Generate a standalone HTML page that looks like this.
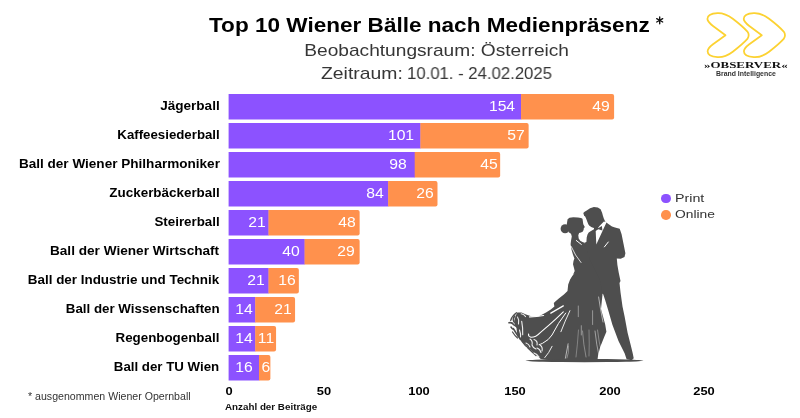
<!DOCTYPE html>
<html><head><meta charset="utf-8"><style>
html,body{margin:0;padding:0;background:#fff;}
body{width:800px;height:418px;position:relative;overflow:hidden;font-family:"Liberation Sans",sans-serif;}
.a{position:absolute;white-space:nowrap;}
*{-webkit-font-smoothing:antialiased;}
.lab,.v,.t,.txt{will-change:transform;}
.bar{position:absolute;}
.lab{position:absolute;right:580.4px;font-weight:bold;font-size:12px;color:#000;line-height:14px;transform-origin:100% 50%;}
.v{position:absolute;color:#fff;font-size:15.2px;line-height:16px;transform-origin:50% 50%;}
.t{position:absolute;font-weight:bold;font-size:11.5px;color:#000;line-height:13px;transform:scaleX(1.12);}
</style></head><body>

<div class="a txt" style="left:209.39999999999998px;top:12.5px;font-weight:bold;font-size:20.4px;line-height:24px;color:#000;transform-origin:0 50%;transform:scaleX(1.1065);">Top 10 Wiener Bälle nach Medienpräsenz</div>
<svg class="a" style="left:0;top:0" width="800" height="60" viewBox="0 0 800 60"><g stroke="#111" stroke-width="1.35" stroke-linecap="round"><path d="M659.7,16.9 V23.7"/><path d="M656.7,18.6 L662.7,22"/><path d="M656.7,22 L662.7,18.6"/></g></svg>
<div class="a txt" style="left:0;width:873px;top:41px;text-align:center;font-size:17px;line-height:20px;color:#363636;"><span style="display:inline-block;transform:scaleX(1.125);">Beobachtungsraum: Österreich</span></div>
<div class="a txt" style="left:320.90000000000003px;top:63.8px;font-size:17px;line-height:20px;color:#363636;transform-origin:0 50%;transform:scaleX(1.139);">Zeitraum:</div>
<div class="a txt" style="left:406.6px;top:63.8px;font-size:17px;line-height:20px;color:#363636;transform-origin:0 50%;transform:scaleX(0.983);">10.01. - 24.02.2025</div>
<svg class="a" style="left:0;top:0;" width="800" height="418" viewBox="0 0 800 418"><rect x="228.60" y="94.00" width="292.75" height="25.5" fill="#8c52ff"/><path d="M521.05,94.00 H612.10 Q614.10,94.00 614.10,96.00 V117.50 Q614.10,119.50 612.10,119.50 H521.05 Z" fill="#ff914d"/><rect x="228.60" y="123.00" width="192.10" height="25.5" fill="#8c52ff"/><path d="M420.40,123.00 H526.64 Q528.64,123.00 528.64,125.00 V146.50 Q528.64,148.50 526.64,148.50 H420.40 Z" fill="#ff914d"/><rect x="228.60" y="152.00" width="186.40" height="25.5" fill="#8c52ff"/><path d="M414.70,152.00 H498.16 Q500.16,152.00 500.16,154.00 V175.50 Q500.16,177.50 498.16,177.50 H414.70 Z" fill="#ff914d"/><rect x="228.60" y="181.00" width="159.82" height="25.5" fill="#8c52ff"/><path d="M388.12,181.00 H435.49 Q437.49,181.00 437.49,183.00 V204.50 Q437.49,206.50 435.49,206.50 H388.12 Z" fill="#ff914d"/><rect x="228.60" y="210.00" width="40.18" height="25.5" fill="#8c52ff"/><path d="M268.48,210.00 H357.63 Q359.63,210.00 359.63,212.00 V233.50 Q359.63,235.50 357.63,235.50 H268.48 Z" fill="#ff914d"/><rect x="228.60" y="239.00" width="76.26" height="25.5" fill="#8c52ff"/><path d="M304.56,239.00 H357.63 Q359.63,239.00 359.63,241.00 V262.50 Q359.63,264.50 357.63,264.50 H304.56 Z" fill="#ff914d"/><rect x="228.60" y="268.00" width="40.18" height="25.5" fill="#8c52ff"/><path d="M268.48,268.00 H296.86 Q298.86,268.00 298.86,270.00 V291.50 Q298.86,293.50 296.86,293.50 H268.48 Z" fill="#ff914d"/><rect x="228.60" y="297.00" width="26.89" height="25.5" fill="#8c52ff"/><path d="M255.19,297.00 H293.06 Q295.06,297.00 295.06,299.00 V320.50 Q295.06,322.50 293.06,322.50 H255.19 Z" fill="#ff914d"/><rect x="228.60" y="326.00" width="26.89" height="25.5" fill="#8c52ff"/><path d="M255.19,326.00 H274.07 Q276.07,326.00 276.07,328.00 V349.50 Q276.07,351.50 274.07,351.50 H255.19 Z" fill="#ff914d"/><rect x="228.60" y="355.00" width="30.68" height="25.5" fill="#8c52ff"/><path d="M258.98,355.00 H268.38 Q270.38,355.00 270.38,357.00 V378.50 Q270.38,380.50 268.38,380.50 H258.98 Z" fill="#ff914d"/></svg>
<div class="lab" style="top:99.10000000000001px;transform:scaleX(1.1299166666666667);">Jägerball</div>
<div class="v" style="left:462.30px;width:80px;text-align:center;top:98.1px;transform:scaleX(1.035);">154</div>
<div class="v" style="left:560.50px;width:80px;text-align:center;top:98.1px;transform:scaleX(1.035);">49</div>
<div class="lab" style="top:128.1px;transform:scaleX(1.1039166666666664);">Kaffeesiederball</div>
<div class="v" style="left:360.86px;width:80px;text-align:center;top:127.1px;transform:scaleX(1.035);">101</div>
<div class="v" style="left:475.70px;width:80px;text-align:center;top:127.1px;transform:scaleX(1.035);">57</div>
<div class="lab" style="top:157.1px;transform:scaleX(1.1299166666666667);">Ball der Wiener Philharmoniker</div>
<div class="v" style="left:358.00px;width:80px;text-align:center;top:156.1px;transform:scaleX(1.035);">98</div>
<div class="v" style="left:448.86px;width:80px;text-align:center;top:156.1px;transform:scaleX(1.035);">45</div>
<div class="lab" style="top:186.1px;transform:scaleX(1.118);">Zuckerbäckerball</div>
<div class="v" style="left:334.61px;width:80px;text-align:center;top:185.1px;transform:scaleX(1.035);">84</div>
<div class="v" style="left:384.86px;width:80px;text-align:center;top:185.1px;transform:scaleX(1.035);">26</div>
<div class="lab" style="top:215.1px;transform:scaleX(1.1125833333333333);">Steirerball</div>
<div class="v" style="left:216.80px;width:80px;text-align:center;top:214.1px;transform:scaleX(1.035);">21</div>
<div class="v" style="left:306.87px;width:80px;text-align:center;top:214.1px;transform:scaleX(1.035);">48</div>
<div class="lab" style="top:244.1px;transform:scaleX(1.13425);">Ball der Wiener Wirtschaft</div>
<div class="v" style="left:250.97px;width:80px;text-align:center;top:243.1px;transform:scaleX(1.035);">40</div>
<div class="v" style="left:306.28px;width:80px;text-align:center;top:243.1px;transform:scaleX(1.035);">29</div>
<div class="lab" style="top:273.09999999999997px;transform:scaleX(1.118);">Ball der Industrie und Technik</div>
<div class="v" style="left:215.65px;width:80px;text-align:center;top:272.1px;transform:scaleX(1.035);">21</div>
<div class="v" style="left:247.49px;width:80px;text-align:center;top:272.1px;transform:scaleX(1.035);">16</div>
<div class="lab" style="top:302.09999999999997px;transform:scaleX(1.1093333333333335);">Ball der Wissenschaften</div>
<div class="v" style="left:203.89px;width:80px;text-align:center;top:301.1px;transform:scaleX(1.035);">14</div>
<div class="v" style="left:243.02px;width:80px;text-align:center;top:301.1px;transform:scaleX(1.035);">21</div>
<div class="lab" style="top:331.09999999999997px;transform:scaleX(1.1125833333333333);">Regenbogenball</div>
<div class="v" style="left:203.50px;width:80px;text-align:center;top:330.1px;transform:scaleX(1.035);">14</div>
<div class="v" style="left:226.00px;width:80px;text-align:center;top:330.1px;transform:scaleX(1.035);">11</div>
<div class="lab" style="top:360.09999999999997px;transform:scaleX(1.1071666666666666);">Ball der TU Wien</div>
<div class="v" style="left:203.50px;width:80px;text-align:center;top:359.1px;transform:scaleX(1.035);">16</div>
<div class="v" style="left:225.73px;width:80px;text-align:center;top:359.1px;transform:scaleX(1.035);">6</div>
<div class="t" style="left:198.60px;width:60px;text-align:center;top:385px;">0</div>
<div class="t" style="left:293.55px;width:60px;text-align:center;top:385px;">50</div>
<div class="t" style="left:388.50px;width:60px;text-align:center;top:385px;">100</div>
<div class="t" style="left:484.65px;width:60px;text-align:center;top:385px;">150</div>
<div class="t" style="left:579.60px;width:60px;text-align:center;top:385px;">200</div>
<div class="t" style="left:673.95px;width:60px;text-align:center;top:385px;">250</div>
<div class="a txt" style="left:225px;top:402px;font-weight:bold;font-size:9px;line-height:11px;color:#111;transform-origin:0 50%;transform:scaleX(1.09);">Anzahl der Beiträge</div>
<div class="a txt" style="left:27.5px;top:391px;font-size:10px;line-height:12px;color:#333;transform-origin:0 50%;transform:scaleX(1.06);">* ausgenommen Wiener Opernball</div>
<div class="a" style="left:661.2px;top:193.8px;width:9.5px;height:9.5px;border-radius:50%;background:#8c52ff;"></div>
<div class="a" style="left:661.2px;top:210.1px;width:9.5px;height:9.5px;border-radius:50%;background:#ff914d;"></div>
<div class="a txt" style="left:675.3px;top:191px;font-size:11.5px;line-height:14px;color:#333;transform-origin:0 50%;transform:scaleX(1.24);">Print</div>
<div class="a txt" style="left:675px;top:207.3px;font-size:11.5px;line-height:14px;color:#333;transform-origin:0 50%;transform:scaleX(1.2);">Online</div>
<svg class="a" style="left:0;top:0;" width="800" height="418" viewBox="0 0 800 418">
<path d="M717.5,13.1 C723,12.8 727.5,14.8 732.8,18.8 C738.3,23 743.8,27.6 747.4,31.6 Q750,35.2 747.4,38.9 C743.8,42.9 738.3,47.5 732.8,51.7 C727.5,55.7 723,57.6 717.5,57.2 C711,56.8 707.6,54.4 707.6,51.3 C707.7,48.7 710,46.6 713,44.3 L725.5,35.2 L713,26 C710,23.7 707.5,21.5 707.4,18.9 C707.4,15.8 711,13.4 717.5,13.1 Z" fill="none" stroke="#fcd232" stroke-width="1.75" stroke-linejoin="round"/>
<path d="M717.5,13.1 C723,12.8 727.5,14.8 732.8,18.8 C738.3,23 743.8,27.6 747.4,31.6 Q750,35.2 747.4,38.9 C743.8,42.9 738.3,47.5 732.8,51.7 C727.5,55.7 723,57.6 717.5,57.2 C711,56.8 707.6,54.4 707.6,51.3 C707.7,48.7 710,46.6 713,44.3 L725.5,35.2 L713,26 C710,23.7 707.5,21.5 707.4,18.9 C707.4,15.8 711,13.4 717.5,13.1 Z" fill="none" stroke="#fcd232" stroke-width="1.75" stroke-linejoin="round" transform="translate(36.3,0)"/>
</svg>

<div class="a txt" style="left:703.6px;top:62px;font-family:'Liberation Serif',serif;font-weight:bold;font-size:7.2px;line-height:8px;color:#111;transform-origin:0 50%;transform:scaleX(1.8);">»OBSERVER«</div>
<div class="a txt" style="left:715.5px;top:69.5px;font-weight:bold;font-size:6.6px;line-height:8px;color:#333;transform-origin:0 50%;transform:scaleX(1.047);">Brand Intelligence</div>
<svg class="a" style="left:0;top:0;" width="800" height="418" viewBox="0 0 800 418">
<g fill="#4e4e4e">
<path d="M583.3,213.1 L584.6,211.8 L586.3,210.7 L590.1,208.3 L593.9,207.1 L597.8,207.4 L600.6,209.3 L602.1,212.7 L603,216 L603.8,218.5 L605.3,221.8 L608.4,224.1 L612,226.4 L615,227.4 L619.7,228.8 L621.6,234.2 L623.5,243.7 L625.4,253.3 L624.5,257.1 L620.7,258.7 L616.8,258.5 L617.4,265 L618.7,272.5 L620.5,281.1 L619.5,283 L620.5,292.2 L622.5,306.4 L624.6,316.6 L627.6,332.8 L630.7,345 L632.7,353.2 L633.7,358.3 L631.7,360.3 L626.6,359.3 L624.6,353.2 L618.5,341 L612.4,324.7 L608.3,310.5 L605.2,300.3 L603.2,294.2 L595,290 L583,252 L584.4,242.8 L586.4,242 L586.7,237.6 L587.5,234.5 L588.7,232.6 L591,231.1 L594,229.2 L594,228 L591.7,227.2 L589.4,225.7 L588.3,224.2 L587.5,222.3 L586.4,219.2 L585.2,216.5 L584.1,215.7 Z"/>
<path d="M567.6,219.2 L569.5,217.7 L573.3,217.2 L577.9,217.4 L581,218 L582.5,218.8 L582.9,221.5 L583.3,224.2 L584.8,226.9 L583.7,228.4 L583.7,229.5 L582.9,231.5 L581,232.6 L579.1,233 L578.3,235.3 L578.7,238.4 L580.2,240.7 L582.5,242 L584.4,242.7 L590,260 L600,280 L602.5,294.6 L601,308.9 L605.2,324.5 L606.4,331.7 L604.2,336.9 L600.2,347.1 L598.1,355.2 L597.5,359.8 L575,360.6 L551.1,360.2 L545.7,359.8 L540.8,358.9 L534.3,353.2 L526.1,345.4 L519.5,339.5 L517.4,336 L516.5,328 L514,322.5 L515.5,316 L517.4,312.6 L521.5,312.5 L526,314.6 L532,316.6 L539,316.2 L546,312.5 L550.8,309.5 L554.4,306.5 L553.8,303 L555.6,301.2 L559.1,298.2 L563.9,294.6 L567.5,291 L568.2,284.4 L570.1,279.6 L573,274.8 L574.7,271 L574,268 L573,264.3 L573.5,261 L574.4,258.6 L573,254.7 L571.6,250 L570.6,244.2 L571,240.7 L571.8,236.4 L571,233.8 L568.7,232.2 L566.8,224.2 L567.2,221.5 Z"/><circle cx="565.1" cy="228.8" r="4.5"/>
<ellipse cx="584.5" cy="360.6" rx="58.8" ry="1.6"/>
</g>
<g fill="none" stroke="#4e4e4e" stroke-linecap="round">
<path d="M509,322.8 Q512,322 513.6,324.7 Q515.5,326 517.4,327.1" stroke-width="1.6"/>
<path d="M510.7,320.4 Q512,316 516.5,312.8" stroke-width="1.4"/>
<path d="M511,327 Q513,330 513.6,329 Q516,333 518.4,336.7" stroke-width="1.5"/>
<path d="M512.5,332 Q515,336 517.5,338" stroke-width="1.2"/>
<path d="M514.5,316 Q512.5,319 514,322" stroke-width="1.6"/>
<path d="M522,341.5 Q525,346 529,348.5" stroke-width="1.3"/>
<path d="M528,348 Q532,352 536,355.5" stroke-width="1.3"/>
</g>
<g fill="#fff"><path d="M603.9,221.4 L606.6,222.2 L603.2,229.5 L596.3,244.6 L595.7,231 L599.5,226 Z"/></g>
<g fill="#4e4e4e"><path d="M594.5,226.1 L598.4,228 L601.9,225.9 L602.4,230.5 L598.4,229.3 L594.9,231.2 Z"/></g>
<g fill="none" stroke="#fff" stroke-width="1" stroke-linecap="round">
<path d="M604.4,246.9 L608.3,242"/>
<path d="M576.3,240.5 L581.3,244.4"/>
<path d="M571.2,246.5 Q575,255.5 581,262.5" stroke-width="0.8"/>
<path d="M567.5,282 Q570,277 573.5,274" stroke-width="0.6" stroke-opacity="0.8"/>
<path d="M550.8,313.1 L563.3,305.9" stroke-width="1.3"/>
<path d="M563.3,311.9 Q555,320 548.4,325.7 Q544,329.5 540,332.9 Q536,337.3 531,337.3 Q528,336.5 528.6,334" stroke-width="1.1"/>
<path d="M565.7,313.1 Q558,323 552,335 Q549,340 542.4,343.4 Q540.5,344.3 539.1,344.6" stroke-width="1"/>
<path d="M569.9,310.7 Q565,321 560.9,331.7" stroke-width="0.9"/>
<path d="M552.1,346.3 Q549,353 544.8,357.6" stroke-width="0.9"/>
<path d="M568.1,343.8 L565.4,358.2" stroke-width="0.6"/>
<path d="M529.5,316.9 Q536,317 543.6,315.5" stroke-width="1.1"/>
<path d="M578.3,306 L578.3,316.7" stroke-width="0.6" stroke-opacity="0.7"/>
<path d="M581.3,325.7 L581.3,335" stroke-width="0.6" stroke-opacity="0.7"/>
<path d="M592.6,310.7 L592.6,324.5" stroke-width="0.6" stroke-opacity="0.7"/>
<path d="M578.5,330 Q577.5,345 576,357" stroke-width="0.5" stroke-opacity="0.6"/>
<path d="M589,330 Q589.5,345 589,356" stroke-width="0.5" stroke-opacity="0.6"/>
<path d="M598.6,297 Q600.5,310 603,322" stroke-width="0.7" stroke-opacity="0.8"/>
<path d="M582.5,331 Q583.5,345 586,357" stroke-width="0.5" stroke-opacity="0.7"/>
<path d="M595,331 Q596.5,345 599,356" stroke-width="0.6" stroke-opacity="0.8"/>
<path d="M597.5,330 Q599,343 601.5,352" stroke-width="0.5" stroke-opacity="0.7"/>
<path d="M568.5,346 Q569,353 567,358" stroke-width="0.5" stroke-opacity="0.7"/>
</g>
<g fill="none" stroke="#fff" stroke-width="1.1" stroke-linecap="round" stroke-opacity="0.9">
<path d="M521.7,321.4 Q523,328 522.7,334.7"/>
<path d="M521.2,313.7 Q524,314 525.5,316.6"/>
<path d="M517.5,317 Q519.5,320 518.5,324"/>
<path d="M519.5,330 Q521,334 520.5,337"/>
<path d="M530,339 Q533,341 532,345 Q533,348 536,349"/>
<path d="M534,339.5 Q538,341 537,345"/>
<path d="M537,348 Q540,349 541,352.5"/>
<path d="M540,345 Q543,347 542,351"/>
<path d="M526,343 Q529,344 530,347"/>
<path d="M534,353 Q537,354 539,357"/>
</g>
</svg>

</body></html>
